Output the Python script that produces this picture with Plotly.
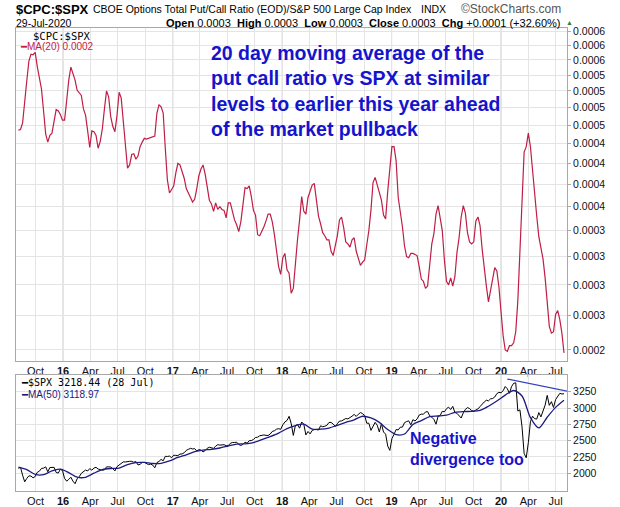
import numpy as np
import pandas as pd
import plotly.graph_objects as go

############## Data ####################################################

# weekly samples, the last one is 29-Jul-2020
week_dates = pd.date_range(end="2020-07-29", periods=261, freq="7D")

# $CPC:$SPX 20 day moving average, in units of 1e-4
cpc_spx_ma20 = [
    4.43, 4.44, 4.53, 4.79, 5.16, 5.48, 5.60, 5.59, 5.63, 5.39,
    5.18, 5.03, 4.70, 4.38, 4.27, 4.36, 4.39, 4.56, 4.72, 4.70,
    4.65, 4.57, 4.57, 4.85, 5.17, 5.38, 5.28, 5.17, 5.01, 4.96,
    4.93, 4.73, 4.64, 4.42, 4.20, 4.42, 4.41, 4.36, 4.19, 4.28,
    4.45, 4.73, 5.00, 4.91, 4.62, 4.48, 4.41, 4.64, 4.98, 4.89,
    4.54, 4.18, 3.94, 3.98, 4.11, 4.12, 4.05, 4.09, 4.21, 4.27,
    4.32, 4.31, 4.32, 4.34, 4.34, 4.35, 4.67, 4.79, 4.76, 4.67,
    4.19, 3.80, 3.65, 3.69, 3.73, 3.88, 4.00, 3.98, 3.89, 3.82,
    3.70, 3.64, 3.60, 3.55, 3.58, 3.70, 3.85, 3.93, 3.98, 3.87,
    3.73, 3.57, 3.53, 3.45, 3.54, 3.47, 3.50, 3.47, 3.46, 3.38,
    3.54, 3.54, 3.45, 3.36, 3.31, 3.24, 3.34, 3.54, 3.71, 3.70,
    3.73, 3.61, 3.46, 3.41, 3.21, 3.20, 3.24, 3.29, 3.35, 3.42,
    3.42, 3.34, 3.21, 3.07, 2.91, 2.84, 2.99, 3.03, 2.88, 2.85,
    2.68, 2.72, 2.97, 3.16, 3.36, 3.61, 3.45, 3.42, 3.60, 3.66,
    3.74, 3.76, 3.55, 3.40, 3.32, 3.23, 3.20, 3.16, 3.16, 3.05,
    3.01, 3.10, 3.20, 3.36, 3.39, 3.28, 3.14, 3.12, 3.09, 3.16,
    3.18, 3.05, 2.99, 2.92, 2.95, 2.97, 3.11, 3.25, 3.46, 3.77,
    3.83, 3.73, 3.66, 3.57, 3.41, 3.37, 3.67, 3.94, 4.21, 4.21,
    4.03, 3.60, 3.45, 3.29, 3.10, 3.00, 2.99, 3.03, 3.03, 3.02,
    3.01, 2.91, 2.80, 2.78, 2.72, 2.74, 2.92, 3.12, 3.22, 3.42,
    3.51, 3.35, 3.25, 2.97, 2.78, 2.75, 2.81, 2.74, 2.82, 3.04,
    3.18, 3.39, 3.51, 3.43, 3.23, 3.14, 3.12, 3.14, 3.35, 3.39,
    3.30, 3.07, 2.88, 2.74, 2.61, 2.71, 2.82, 2.90, 2.87, 2.73,
    2.53, 2.35, 2.25, 2.24, 2.28, 2.28, 2.30, 2.38, 2.62, 3.08,
    3.60, 4.14, 4.21, 4.39, 4.21, 3.91, 3.58, 3.40, 3.19, 3.09,
    2.98, 2.81, 2.57, 2.42, 2.37, 2.38, 2.51, 2.54, 2.47, 2.37, 2.23,
]

# S&P 500 weekly closes
spx_close = [
    2077, 2092, 1971, 1870, 1921, 1961, 1958, 1931, 1951, 2015,
    2033, 2075, 2079, 2099, 2023, 2089, 2090, 2092, 2012, 2005,
    2061, 2044, 1922, 1880, 1907, 1940, 1880, 1840, 1918, 1948,
    2000, 2022, 2050, 2036, 2073, 2048, 2081, 2092, 2065, 2057,
    2047, 2053, 2099, 2099, 2096, 2071, 2037, 2103, 2130, 2162,
    2175, 2174, 2183, 2184, 2184, 2169, 2180, 2128, 2139, 2165,
    2168, 2153, 2133, 2141, 2126, 2085, 2164, 2182, 2213, 2192,
    2260, 2258, 2264, 2239, 2277, 2275, 2271, 2295, 2297, 2316,
    2351, 2367, 2383, 2373, 2378, 2344, 2363, 2355, 2329, 2349,
    2384, 2399, 2391, 2382, 2416, 2439, 2432, 2433, 2438, 2423,
    2425, 2459, 2472, 2472, 2477, 2441, 2426, 2443, 2477, 2461,
    2500, 2502, 2519, 2549, 2553, 2575, 2581, 2588, 2582, 2579,
    2602, 2642, 2652, 2676, 2684, 2674, 2743, 2786, 2810, 2873,
    2762, 2581, 2732, 2747, 2691, 2786, 2752, 2588, 2641, 2604,
    2656, 2670, 2670, 2663, 2728, 2713, 2721, 2735, 2779, 2780,
    2755, 2718, 2760, 2801, 2802, 2819, 2840, 2833, 2850, 2875,
    2902, 2872, 2905, 2930, 2914, 2886, 2767, 2768, 2658, 2723,
    2781, 2736, 2633, 2760, 2633, 2600, 2417, 2351, 2532, 2596,
    2671, 2665, 2707, 2708, 2776, 2793, 2804, 2743, 2822, 2801,
    2834, 2893, 2907, 2905, 2940, 2946, 2881, 2860, 2826, 2752,
    2873, 2887, 2950, 2942, 2990, 3014, 2977, 3026, 2932, 2919,
    2889, 2847, 2926, 2979, 3007, 2992, 2962, 2952, 2970, 2986,
    3023, 3067, 3093, 3120, 3110, 3141, 3146, 3169, 3221, 3240,
    3235, 3265, 3330, 3295, 3226, 3328, 3380, 3386, 2954, 2972,
    2711, 2305, 2237, 2470, 2790, 2875, 2837, 2831, 2930, 2864,
    2955, 3044, 3194, 3041, 3098, 3009, 3130, 3185, 3225, 3216, 3218.44,
]

# 50 day moving average, every fourth week
ma50_dates = week_dates[::4]
spx_ma50 = [
    2095, 2055, 1983, 1979, 2039, 2063, 2010, 1940, 1939, 2002,
    2057, 2074, 2079, 2133, 2164, 2167, 2150, 2153, 2189, 2243,
    2284, 2331, 2356, 2367, 2388, 2418, 2447, 2452, 2472, 2516,
    2563, 2616, 2685, 2732, 2752, 2678, 2676, 2694, 2735, 2779,
    2820, 2874, 2848, 2780, 2671, 2593, 2602, 2749, 2808, 2867,
    2878, 2891, 2934, 2946, 2948, 2964, 3028, 3108, 3198, 3269,
    3185, 2853, 2696, 2859, 3010, 3119,
]

# hand drawn resistance line on the SPX panel
trend_dates = ["2020-01-22", "2020-09-26"]
trend_values = [3444, 3215]

ratio_tickvals = [0.000225, 0.00025, 0.000275, 0.0003, 0.000325, 0.00035,
                  0.000375, 0.0004, 0.000425, 0.00045, 0.000475, 0.0005,
                  0.000525, 0.00055, 0.000575, 0.0006]
ratio_ticktext = ["0.0002", "0.0003", "0.0003", "0.0003", "0.0003", "0.0004",
                  "0.0004", "0.0004", "0.0004", "0.0005", "0.0005", "0.0005",
                  "0.0005", "0.0006", "0.0006", "0.0006"]
spx_ticks = [2000, 2250, 2500, 2750, 3000, 3250]

month_ticks = pd.date_range("2015-10-01", "2020-07-01", freq="3MS")
month_labels = ["Oct", "<b>16</b>", "Apr", "Jul", "Oct", "<b>17</b>", "Apr", "Jul",
                "Oct", "<b>18</b>", "Apr", "Jul", "Oct", "<b>19</b>", "Apr", "Jul",
                "Oct", "<b>20</b>", "Apr", "Jul"]
year_starts = ["2016-01-01", "2017-01-01", "2018-01-01", "2019-01-01", "2020-01-01"]

############## Colours / fonts ###################

RED = "#bf1e46"
NAVY = "#1c1c80"
BLUE_TXT = "#1414cc"
GRID = "#e4e4e4"
FRAME = "#a8a8a8"
SANS = "Liberation Sans, Arial, sans-serif"
MONO = "DejaVu Sans Mono, monospace"

############## Figure ###################

fig = go.Figure()

fig.add_trace(go.Scatter(
    x=week_dates, y=np.array(cpc_spx_ma20) * 1e-4,
    mode="lines", line=dict(color=RED, width=1.2),
    xaxis="x", yaxis="y", showlegend=False))

fig.add_trace(go.Scatter(
    x=week_dates, y=spx_close, mode="lines",
    line=dict(color="black", width=1),
    xaxis="x2", yaxis="y2", showlegend=False))

fig.add_trace(go.Scatter(
    x=ma50_dates, y=spx_ma50, mode="lines",
    line=dict(color=NAVY, width=1.3, shape="spline", smoothing=0.8),
    xaxis="x2", yaxis="y2", showlegend=False))

fig.add_trace(go.Scatter(
    x=trend_dates, y=trend_values, mode="lines",
    line=dict(color="#3442c0", width=1.3),
    xaxis="x2", yaxis="y2", showlegend=False))

x_range = ["2015-07-28", "2020-08-08"]
xcommon = dict(range=x_range, tickvals=month_ticks, ticktext=month_labels,
               showgrid=True, gridcolor=GRID, gridwidth=1, automargin=False,
               showline=True, linecolor=FRAME, mirror=True, ticks="",
               tickfont=dict(size=11, color="#111", family=SANS), zeroline=False)
ycommon = dict(side="right", showgrid=True, gridcolor=GRID, automargin=False,
               showline=True, linecolor=FRAME, mirror=True,
               ticks="outside", ticklen=3, tickcolor=FRAME,
               tickfont=dict(size=10.5, color="#111", family=SANS), zeroline=False)

fig.update_layout(
    width=620, height=507,
    margin=dict(l=16, r=53, t=28, b=16),
    paper_bgcolor="white", plot_bgcolor="white",
    font=dict(family=SANS, color="black"),
    xaxis=dict(domain=[0, 1], anchor="y", **xcommon),
    xaxis2=dict(domain=[0, 1], anchor="y2", matches="x", **xcommon),
    yaxis=dict(domain=[0.2808, 1], anchor="x", type="log",
               range=[np.log10(0.0002175), np.log10(0.000607)],
               tickvals=ratio_tickvals, ticktext=ratio_ticktext, **ycommon),
    yaxis2=dict(domain=[0, 0.2505], anchor="x2", range=[1729, 3506],
                tickvals=spx_ticks, **ycommon),
)

# darker gridlines at the start of each year
for d in year_starts:
    for xr, yr in (("x", "y domain"), ("x2", "y2 domain")):
        fig.add_shape(type="line", xref=xr, yref=yr, x0=d, x1=d, y0=0, y1=1,
                      line=dict(color="#c6c6c6", width=1), layer="below")

# header text
def note(text, x, y, size, xanchor="left", yanchor="middle", color="black",
         family=SANS, align="left"):
    fig.add_annotation(text=text, x=x, y=y, xref="paper", yref="paper",
                       xanchor=xanchor, yanchor=yanchor, showarrow=False,
                       align=align, font=dict(size=size, color=color, family=family))

nb = "\u00a0"
note("<b>$CPC:$SPX</b>", -0.004, 1.0400, 13)
note("CBOE Options Total Put/Call Ratio (EOD)/S&P 500 Large Cap Index", 0.137, 1.0400, 10.5)
note("INDX", 0.732, 1.0400, 10.5)
note("\u00a9StockCharts.com", 0.993, 1.0400, 12, xanchor="right", color="#555")
note("29-Jul-2020", -0.004, 1.0115, 10.5)
note(("<b>Open</b> 0.0003" + nb * 2 + "<b>High</b> 0.0003" + nb * 2 + "<b>Low</b> 0.0003"
      + nb * 2 + "<b>Close</b> 0.0003" + nb * 2 + "<b>Chg</b> +0.0001 (+32.60%)"),
     0.993, 1.0115, 11, xanchor="right")
note("\u25b2", 1.0045, 1.0120, 7, xanchor="center", color="#3c7c3c")

# panel legends
note("$CPC:$SPX", 0.027, 0.9830, 10.5, family=MONO)
note("\u2501<span style='font-family:Liberation Sans'>MA(20) 0.0002</span>",
     0.003, 0.959, 10, color=RED, family=MONO)
note("\u2501$SPX 3218.44 (28 Jul)", 0.005, 0.2354, 10, family=MONO)
note("\u2501<span style='font-family:Liberation Sans'>MA(50) 3118.97</span>",
     0.005, 0.2095, 10, color=NAVY, family=MONO)

# commentary
note("<b>20 day moving average of the<br>put call ratio vs SPX at similar<br>"
     "levels to earlier this year ahead<br>of the market pullback</b>",
     0.3503, 0.9747, 19.5, yanchor="top", color=BLUE_TXT)
note("<b>Negative<br>divergence too</b>", 0.7114, 0.135, 16, yanchor="top", color=BLUE_TXT)

fig.write_html("out.html", config={"displayModeBar": False},
               post_script="document.body.style.margin='0';")
